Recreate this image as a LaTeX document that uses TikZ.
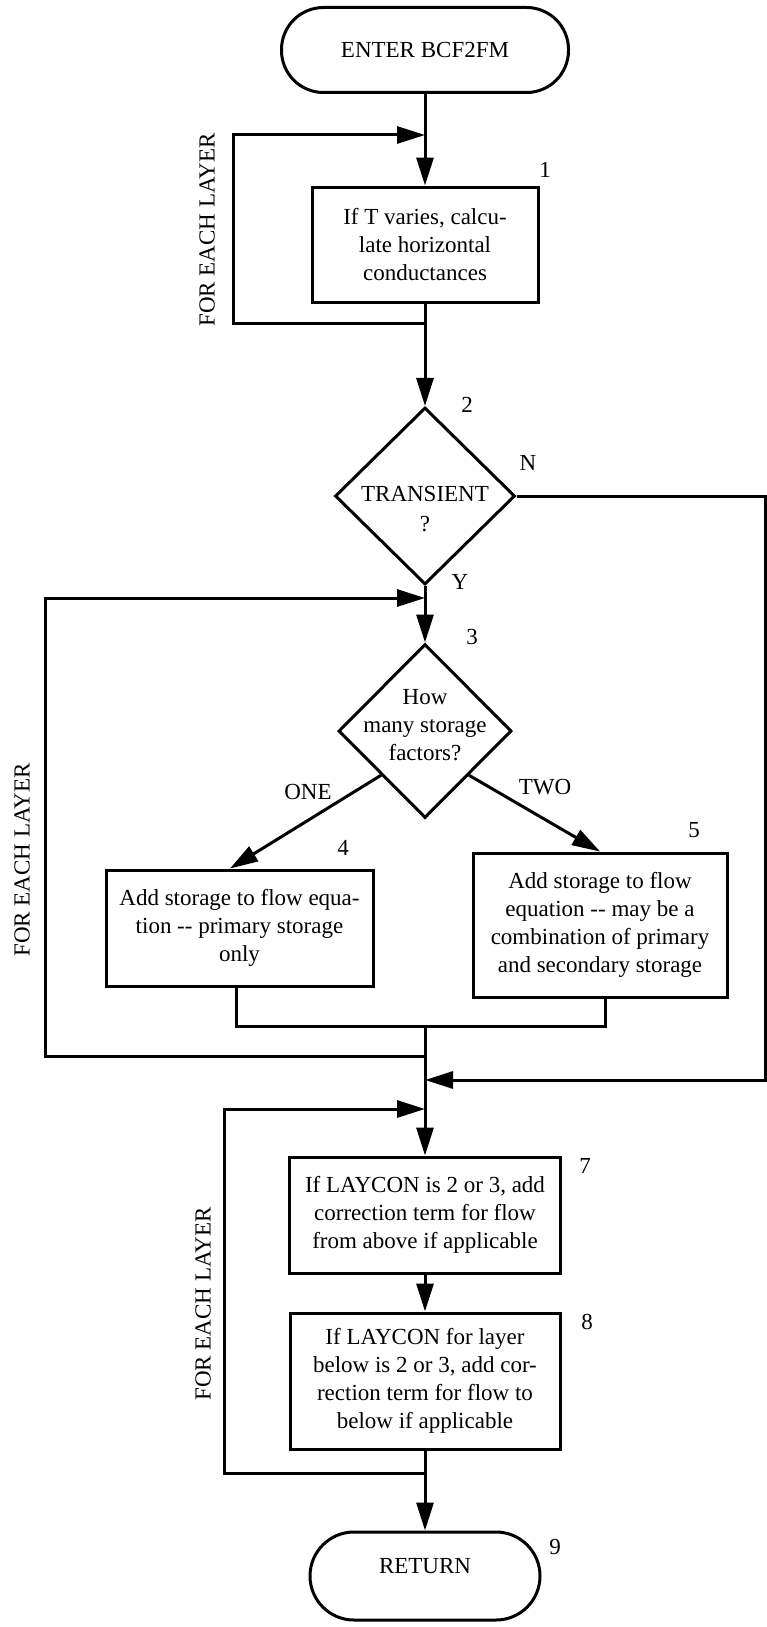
\documentclass[tikz,border=0pt]{standalone}
\usepackage{fontspec}
\setmainfont{Liberation Serif}
\usetikzlibrary{arrows.meta,shapes.geometric}
\newcommand\myfs{\fontsize{23pt}{28pt}\selectfont}
\begin{document}
\begin{tikzpicture}[x=1pt,y=-1pt,
  ln/.style={line width=3pt},
  arr/.style={line width=3pt,-{Triangle[length=28pt,width=17pt]}},
  box/.style={draw,line width=3pt,inner sep=0pt,align=center,font=\myfs},
  term/.style={draw,line width=3pt,inner sep=0pt,font=\myfs},
  dia/.style={draw,diamond,line width=3pt,inner sep=0pt},
  txt/.style={font=\myfs,align=center,inner sep=0pt},
]
\useasboundingbox (0,0) rectangle (767,1627);
% nodes
\node[term,rounded corners=42pt,minimum width=287pt,minimum height=85pt] (start) at (425,50) {ENTER BCF2FM};
\node[box,minimum width=226pt,minimum height=115pt] (b1) at (425,244.5) {If T varies, calcu-\\late horizontal\\conductances};
\node[dia,minimum width=180pt,minimum height=177pt] (d2) at (425,496) {};
\node[txt,font=\fontsize{23pt}{30pt}\selectfont] (t2) at (425,509) {TRANSIENT\\?};
\node[dia,minimum width=173pt,minimum height=174pt] (d3) at (425,731) {};
\node[txt] (t3) at (425,725) {How\\many storage\\factors?};
\node[box,minimum width=267pt,minimum height=116pt] (b4) at (239.5,928) {Add storage to flow equa-\\tion {-}{-} primary storage\\only};
\node[box,minimum width=254pt,minimum height=144pt] (b5) at (600,925) {Add storage to flow\\equation {-}{-} may be a\\combination of primary\\and secondary storage};
\node[box,minimum width=271pt,minimum height=116pt] (b7) at (425,1215) {If LAYCON is 2 or 3, add\\correction term for flow\\from above if applicable};
\node[box,minimum width=270pt,minimum height=136pt] (b8) at (425,1381) {If LAYCON for layer\\below is 2 or 3, add cor-\\rection term for flow to\\below if applicable};
\node[term,rounded corners=44pt,minimum width=230pt,minimum height=88pt,label={[yshift=10pt,font=\myfs]center:RETURN}] (ret) at (425,1576) {};
% numbers and labels
\node[txt] (n1) at (545,170) {1};
\node[txt] (n2) at (467,405) {2};
\node[txt] (lN) at (528,463) {N};
\node[txt] (lY) at (460,582) {Y};
\node[txt] (n3) at (472,637) {3};
\node[txt] (lone) at (308,792) {ONE};
\node[txt] (ltwo) at (545,787) {TWO};
\node[txt] (n4) at (343,848) {4};
\node[txt] (n5) at (694,830) {5};
\node[txt] (n7) at (585,1166) {7};
\node[txt] (n8) at (587,1322) {8};
\node[txt] (n9) at (555,1547) {9};
\node[txt,rotate=90] (fe1) at (207,230) {FOR EACH LAYER};
\node[txt,rotate=90] (fe2) at (22,860) {FOR EACH LAYER};
\node[txt,rotate=90] (fe3) at (203,1304) {FOR EACH LAYER};
% coordinates
\coordinate (j1) at (425,323);
\coordinate (l1) at (233,135);
\coordinate (m1) at (425,135);
\coordinate (nR) at (765,1080);
\coordinate (m4) at (425,1080);
\coordinate (m2) at (425,598);
\coordinate (j2) at (425,1056);
\coordinate (l2) at (45,598);
\coordinate (s4) at (236,1026);
\coordinate (s5) at (605,1026);
\coordinate (jm) at (425,1026);
\coordinate (m3) at (425,1109);
\coordinate (j3) at (425,1473);
\coordinate (l3) at (224,1109);
% connectors
\draw[arr] (start) -- (b1);
\draw[arr] (b1) -- (d2);
\draw[arr] (j1) -| (l1) -- (m1);
\draw[arr] (d2.east) -| (nR) -- (m4);
\draw[arr] (d2) -- (d3);
\draw[arr] (j2) -| (l2) -- (m2);
\draw[arr] (d3.south west) -- ([xshift=-9.5pt]b4.north);
\draw[arr] (d3.south east) -- (b5.north);
\draw[ln] (b4.south -| s4) -- (s4) -- (s5) -- (b5.south -| s5);
\draw[arr] (jm) -- (b7);
\draw[ln] (jm) -- (j2);
\draw[arr] (j3) -| (l3) -- (m3);
\draw[arr] (b7) -- (b8);
\draw[arr] (b8) -- (ret);
\end{tikzpicture}
\end{document}
